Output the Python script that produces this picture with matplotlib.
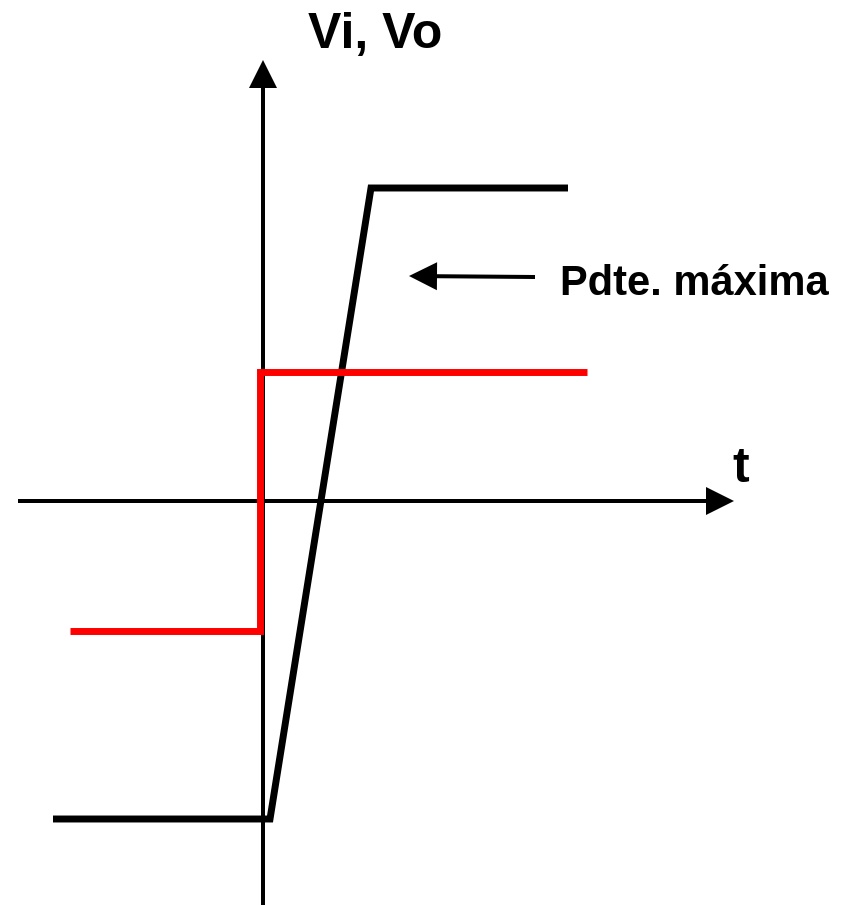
import matplotlib.pyplot as plt

# signal shapes (time, voltage)
vo_t = [-2.10, 0.07, 1.08, 3.05]
vo_v = [-3.18, -3.18, 3.13, 3.13]
vi_t = [-1.93, -0.035, -0.035, 3.24]
vi_v = [-1.30, -1.30, 1.29, 1.29]

t_axis = [-2.45, 4.71]
v_axis = [-4.10, 4.41]

fig = plt.figure(figsize=(8.45, 9.05), dpi=100)
ax = fig.add_axes([0, 0, 1, 1])
ax.set_xlim(-2.63, 5.82)
ax.set_ylim(-4.04, 5.01)
ax.axis('off')

# axes with arrow heads
ax.arrow(t_axis[0], 0, t_axis[1] - t_axis[0], 0, width=0.04, head_width=0.28,
         head_length=0.28, length_includes_head=True, color='black', lw=0)
ax.arrow(0, v_axis[0], 0, v_axis[1] - v_axis[0], width=0.04, head_width=0.28,
         head_length=0.28, length_includes_head=True, color='black', lw=0)

ax.plot(vo_t, vo_v, color='black', lw=5, solid_joinstyle='miter', solid_capstyle='butt')
ax.plot(vi_t, vi_v, color='#ff0000', lw=5, solid_joinstyle='miter', solid_capstyle='butt')

# max slope pointer
ax.arrow(2.72, 2.24, -1.26, 0.01, width=0.04, head_width=0.28,
         head_length=0.28, length_includes_head=True, color='black', lw=0)

font = dict(family='Liberation Sans', weight='bold', color='black')
ax.text(0.45, 4.53, 'Vi, Vo', fontsize=36, ha='left', va='baseline', **font)
ax.text(4.69, 0.19, 't', fontsize=36, ha='left', va='baseline', **font)
ax.text(2.97, 2.06, 'Pdte. máxima', fontsize=30, ha='left', va='baseline', **font)

fig.savefig('out.png', dpi=100)
